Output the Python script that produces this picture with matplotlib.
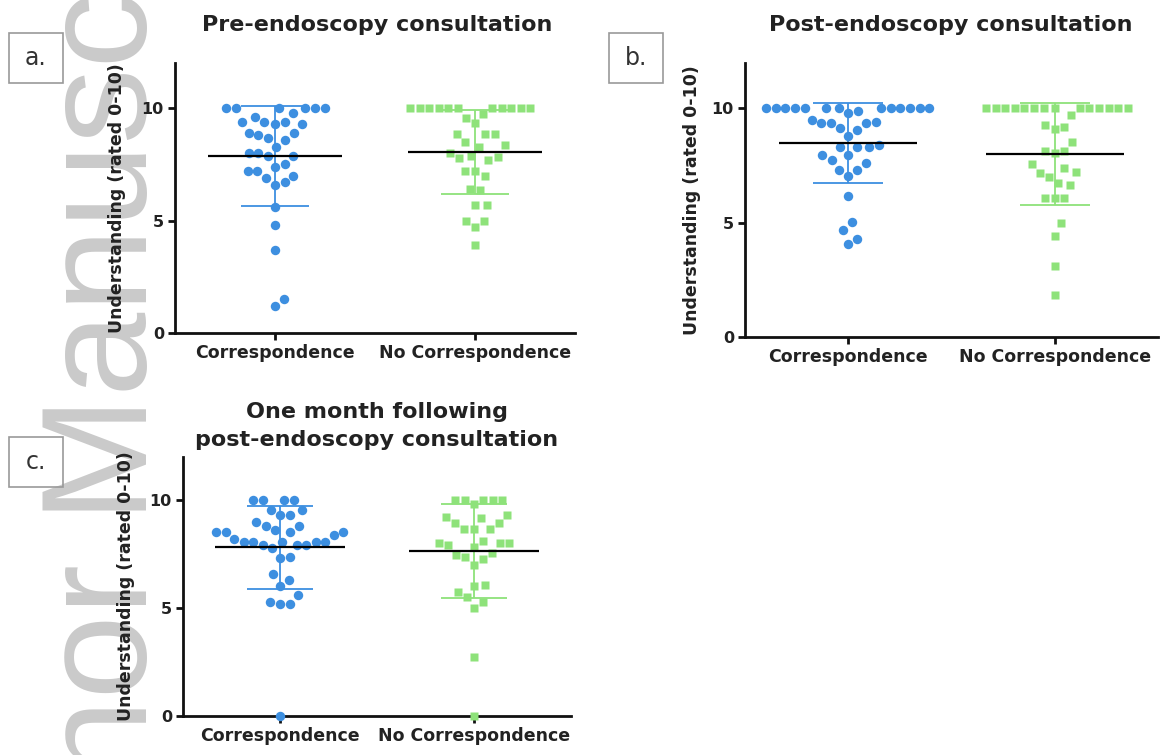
import numpy as np
import matplotlib
matplotlib.use('Agg')
import matplotlib.pyplot as plt
from matplotlib.patches import Rectangle

W, H, DPI = 1160, 755, 100

groups = ['Correspondence', 'No Correspondence']
BLUE = '#3d8fe0'
GREEN = '#8ee27a'

# a. pre-endoscopy consultation
pre_corr = [10, 10, 10, 10, 10, 10, 9.8, 9.6, 9.4, 9.3, 9.3, 9.4, 9.4, 8.9, 8.9, 8.7,
            8.8, 8.6, 8.3, 8.0, 8.0, 7.9, 7.9, 7.5, 7.4, 7.2, 7.2, 6.9, 7.0, 6.6, 6.7,
            5.6, 4.8, 3.7, 1.5, 1.2]
pre_nocorr = [10, 10, 10, 10, 10, 10, 10, 10, 10, 10, 10, 9.75, 9.55, 9.33, 8.85, 8.85,
              8.85, 8.5, 8.3, 8.35, 7.7, 7.88, 7.77, 7.85, 8.0, 7.2, 7.2, 7.0, 6.4, 6.35,
              5.7, 5.7, 5.0, 5.0, 4.7, 3.9]
pre_mean = [7.89, 8.07]
pre_sd = [2.22, 1.87]

# b. post-endoscopy consultation
post_corr = [10, 10, 10, 10, 10, 10, 10, 10, 10, 10, 10, 10, 10, 9.8, 9.87, 9.49, 9.35,
             9.35, 9.35, 9.4, 9.13, 9.05, 8.79, 8.3, 8.3, 8.3, 8.4, 7.97, 7.97, 7.75, 7.6,
             7.3, 7.3, 7.04, 6.17, 5.03, 4.7, 4.3, 4.07]
post_nocorr = [10, 10, 10, 10, 10, 10, 10, 10, 10, 10, 10, 10, 10, 10, 9.7, 9.27, 9.08,
               9.17, 8.54, 8.13, 8.03, 8.13, 7.56, 7.37, 7.23, 7.18, 6.98, 6.75, 6.65,
               6.06, 6.06, 6.06, 5.0, 4.42, 3.1, 1.84]
post_mean = [8.47, 8.0]
post_sd = [1.75, 2.23]

# c. one month following post-endoscopy consultation
month_corr = [10, 10, 10, 10, 9.54, 9.54, 9.3, 9.3, 9.0, 8.8, 8.8, 8.5, 8.5, 8.5, 8.5,
              8.38, 8.6, 8.07, 8.07, 8.07, 8.07, 8.07, 8.18, 7.92, 7.92, 7.92, 7.76, 7.38,
              7.3, 6.57, 6.3, 6.02, 5.6, 5.19, 5.19, 5.3, 0]
month_nocorr = [10, 10, 10, 10, 10, 9.8, 9.3, 9.15, 9.2, 8.92, 8.92, 8.64, 8.64, 8.64,
                8.1, 8.02, 7.92, 7.81, 8.0, 8.02, 7.56, 7.46, 7.35, 7.26, 6.99, 6.02, 6.06,
                5.76, 5.52, 5.29, 4.98, 2.72, 0]
month_mean = [7.81, 7.65]
month_sd = [1.92, 2.17]


def fx(x):
    return x / W


def fy(y):
    return 1 - y / H


def swarm(ax, xc, values, dx0=9.6, dy0=17.0):
    """Beeswarm in pixel space (elliptical spacing), lowest values placed first."""
    vals = np.asarray(values, dtype=float)
    pts = ax.transData.transform(np.column_stack([np.full(len(vals), xc), vals]))
    ys = pts[:, 1] * (dx0 / dy0)
    xs = np.zeros(len(vals))
    placed = []
    for i in np.argsort(ys, kind='stable'):
        y = ys[i]
        cands = [0.0]
        for px, py in placed:
            dy = y - py
            if abs(dy) < dx0:
                dx = np.sqrt(dx0 ** 2 - dy ** 2)
                cands += [px + dx, px - dx]
        cands.sort(key=abs)
        for c in cands:
            if all((c - px) ** 2 + (y - py) ** 2 >= dx0 ** 2 - 1e-6 for px, py in placed):
                xs[i] = c
                break
        placed.append((xs[i], y))
    x0 = ax.transData.transform((xc, 0))[0]
    xd = ax.transData.inverted().transform(np.column_stack([x0 + xs, pts[:, 1]]))[:, 0]
    return xd, vals


def panel(rect, corr, nocorr, mean, sd):
    ax = fig.add_axes(rect)
    ax.set_facecolor('none')
    ax.set_xlim(-0.5, 1.5)
    ax.set_ylim(0, 12)
    for s in ['top', 'right']:
        ax.spines[s].set_visible(False)
    for s in ['left', 'bottom']:
        ax.spines[s].set_linewidth(2)
        ax.spines[s].set_color('#111111')
    ax.set_yticks([0, 5, 10])
    ax.set_xticks([0, 1])
    ax.set_xticklabels(groups, fontsize=12.5, fontweight='bold', color='#222222')
    ax.set_yticklabels(['0', '5', '10'], fontsize=11.5, fontweight='bold', color='#222222')
    ax.tick_params(length=5, width=2, color='#111111', pad=3)

    for i, (data, col, mk, ms) in enumerate([(corr, BLUE, 'o', 6.8), (nocorr, GREEN, 's', 6.3)]):
        xs, ys = swarm(ax, i, data)
        ax.plot(xs, ys, ls='none', marker=mk, ms=ms, mfc=col, mec='none',
                clip_on=False, zorder=3)
        m, s = mean[i], sd[i]
        ax.vlines(i, m - s, m + s, color=col, lw=1.3, zorder=4)
        ax.hlines([m - s, m + s], i - 0.17, i + 0.17, color=col, lw=1.3, zorder=4)
        ax.hlines(m, i - 0.335, i + 0.335, color='black', lw=1.6, zorder=5)
    return ax


fig = plt.figure(figsize=(W / DPI, H / DPI), dpi=DPI)

# watermark
fig.text(fx(147), fy(1010), 'Author Manuscript', rotation=90, rotation_mode='anchor',
         ha='left', va='baseline', fontsize=109, family=['Liberation Sans', 'DejaVu Sans'],
         color='#cacaca', zorder=-1)

panel([fx(175), fy(333), 400 / W, (333 - 63.4) / H], pre_corr, pre_nocorr, pre_mean, pre_sd)
panel([fx(745), fy(337), 413 / W, (337 - 62.6) / H], post_corr, post_nocorr, post_mean, post_sd)
panel([fx(183), fy(716), 388 / W, (716 - 456.8) / H], month_corr, month_nocorr, month_mean, month_sd)

title_kw = dict(ha='center', va='center', fontsize=16, fontweight='bold', color='#222222')
fig.text(fx(377), fy(25), 'Pre-endoscopy consultation', **title_kw)
fig.text(fx(951), fy(25), 'Post-endoscopy consultation', **title_kw)
fig.text(fx(377), fy(412), 'One month following', **title_kw)
fig.text(fx(377), fy(440), 'post-endoscopy consultation', **title_kw)

ylab_kw = dict(rotation=90, ha='center', va='center', fontsize=12.5, fontweight='bold',
               color='#222222')
fig.text(fx(117), fy(198), 'Understanding (rated 0-10)', **ylab_kw)
fig.text(fx(692), fy(200), 'Understanding (rated 0-10)', **ylab_kw)
fig.text(fx(126), fy(586), 'Understanding (rated 0-10)', **ylab_kw)

# panel letter boxes
for lab, x0, y0 in [('a.', 9, 33), ('b.', 609, 33), ('c.', 9, 437)]:
    fig.add_artist(Rectangle((fx(x0), fy(y0 + 50)), 54 / W, 50 / H, transform=fig.transFigure,
                             fill=False, edgecolor='#999999', lw=1.2))
    fig.text(fx(x0 + 27), fy(y0 + 25), lab, ha='center', va='center', fontsize=17,
             color='#333333')

fig.savefig('out.png', dpi=DPI, facecolor='white')
